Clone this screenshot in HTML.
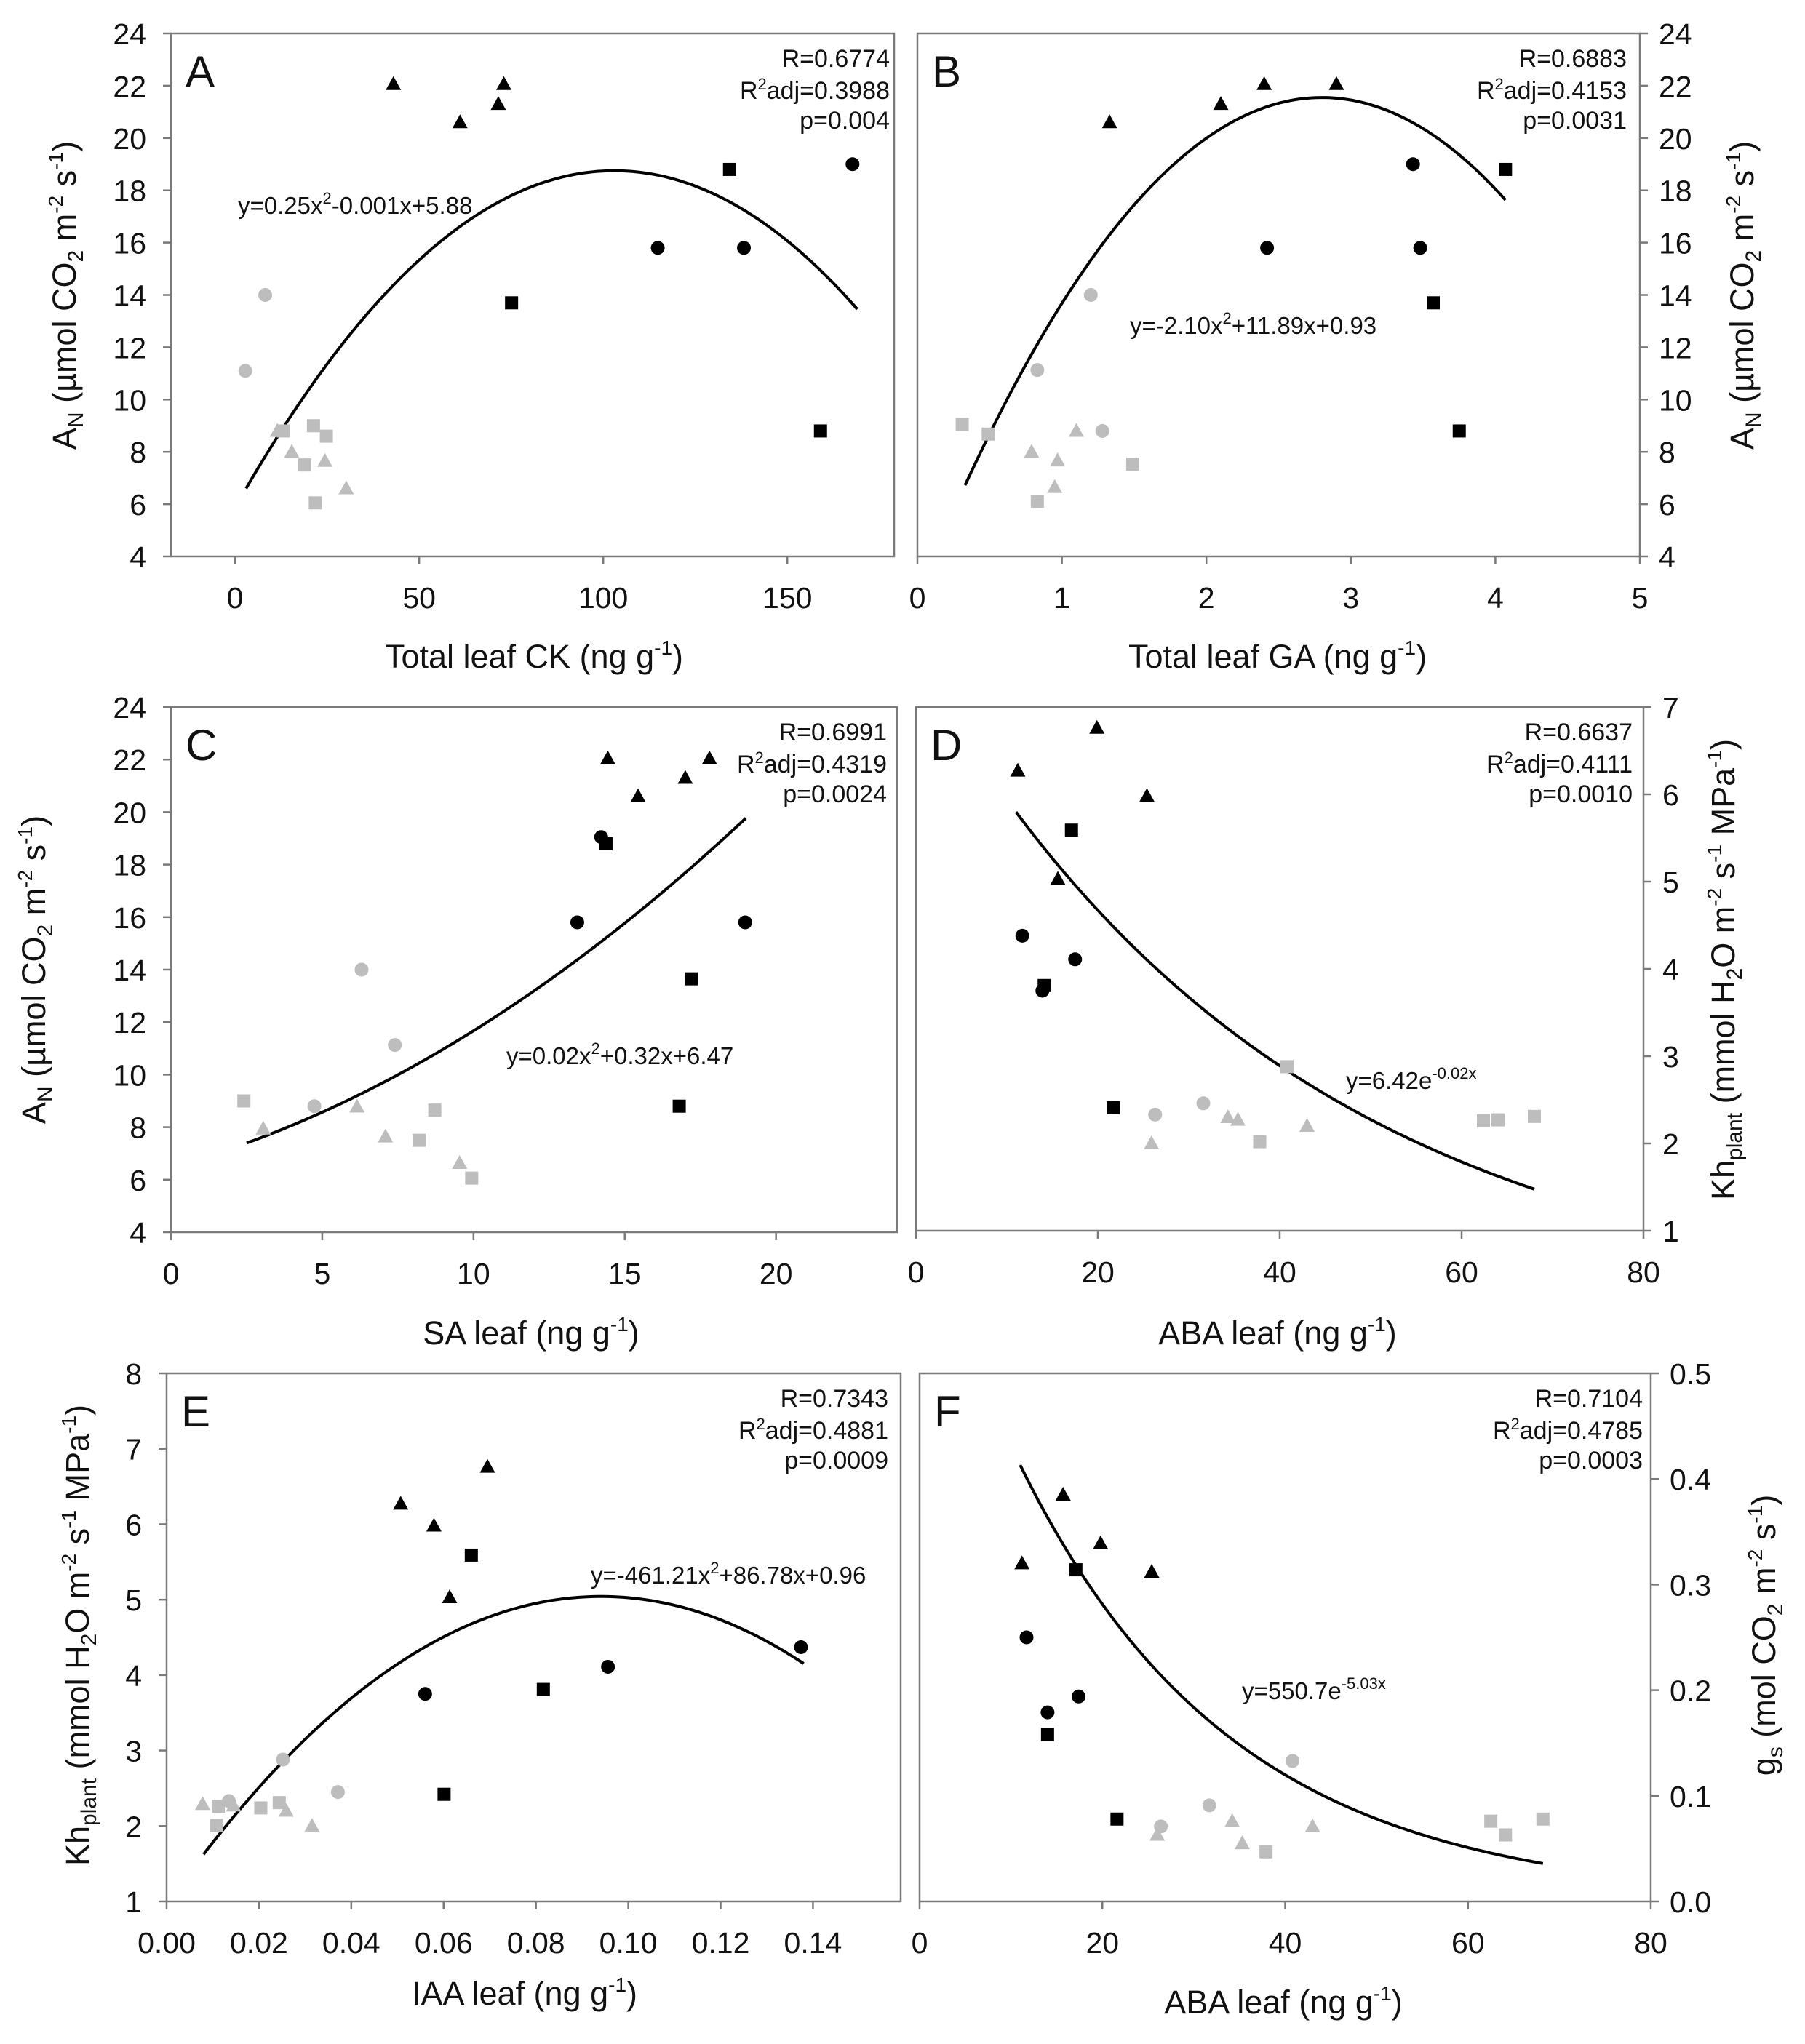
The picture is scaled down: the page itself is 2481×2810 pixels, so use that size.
<!DOCTYPE html>
<html><head><meta charset="utf-8"><style>
html,body{margin:0;padding:0;background:#fff}
svg{display:block}
text{font-family:"Liberation Sans",Arial,sans-serif;fill:#111}
</style></head><body>
<svg id="fig" width="2481" height="2810" viewBox="0 0 2481 2810" xmlns="http://www.w3.org/2000/svg"></svg>
<script>
// ---- Panel A data (Total leaf CK vs AN)
const aBTriX=[43,61.1,73,71.5], aBTriY=[22.06,20.6,22.06,21.3];
const aBSqX=[134.3,75.1,159], aBSqY=[18.8,13.7,8.8];
const aBCirX=[167.7,114.8,138.2], aBCirY=[19.0,15.8,15.8];
const aGTriX=[11.5,15.4,24.4,30.2], aGTriY=[8.8,8.0,7.65,6.6];
const aGSqX=[13.1,21.3,24.8,18.9,21.8], aGSqY=[8.8,9.0,8.6,7.5,6.05];
const aGCirX=[8.2,2.8], aGCirY=[14.0,11.1];
const aFit=[-0.001215,103,18.75], aFitRange=[3,169];
// ---- Panel B data (Total leaf GA vs AN)
const bBTriX=[1.33,2.10,2.40,2.90], bBTriY=[20.6,21.3,22.06,22.06];
const bBSqX=[4.07,3.57,3.75], bBSqY=[18.8,13.7,8.8];
const bBCirX=[3.43,2.42,3.48], bBCirY=[19.0,15.8,15.8];
const bGTriX=[1.10,0.79,0.97,0.95], bGTriY=[8.8,8.0,7.67,6.65];
const bGSqX=[0.31,0.49,1.49,0.83], bGSqY=[9.05,8.68,7.53,6.1];
const bGCirX=[1.20,0.83,1.28], bGCirY=[14.0,11.13,8.8];
const bFit=[-2.43,2.8,21.55], bFitRange=[0.33,4.07];
// ---- Panel C data (SA leaf vs AN)
const cBTriX=[14.44,15.44,17.0,17.8], cBTriY=[22.04,20.6,21.3,22.04];
const cBSqX=[14.38,17.2,16.8], cBSqY=[18.8,13.65,8.8];
const cBCirX=[14.22,13.43,18.98], cBCirY=[19.05,15.8,15.8];
const cGTriX=[3.05,6.15,7.09,9.54], cGTriY=[7.94,8.78,7.64,6.63];
const cGSqX=[2.41,8.72,8.2,9.94], cGSqY=[9.0,8.65,7.5,6.06];
const cGCirX=[6.3,7.4,4.74], cGCirY=[14.0,11.13,8.8];
const cFitCoef=[0.02,0.32,6.47], cFitRange=[2.5,19];
// ---- Panel D data (ABA leaf vs Kh plant)
const dBTriX=[11.2,19.9,25.4,15.6], dBTriY=[6.27,6.76,5.98,5.03];
const dBSqX=[17.1,14.1,21.7], dBSqY=[5.59,3.81,2.41];
const dBCirX=[11.7,17.5,13.9], dBCirY=[4.38,4.11,3.75];
const dGTriX=[25.9,34.3,35.4,43.0], dGTriY=[2.0,2.30,2.27,2.2];
const dGSqX=[40.8,37.8,62.4,64.0,68.0], dGSqY=[2.88,2.02,2.26,2.27,2.31];
const dGCirX=[31.6,26.3], dGCirY=[2.46,2.33];
const dFitExp=[7.55,0.024], dFitRange=[11,68];
// ---- Panel E data (IAA leaf vs Kh plant)
const eBTriX=[0.0507,0.0579,0.0695,0.0613], eBTriY=[6.27,5.98,6.76,5.03];
const eBSqX=[0.066,0.0816,0.0601], eBSqY=[5.59,3.81,2.42];
const eBCirX=[0.056,0.0956,0.1374], eBCirY=[3.75,4.11,4.37];
const eGTriX=[0.0078,0.0145,0.0259,0.0315], eGTriY=[2.29,2.27,2.2,2.0];
const eGSqX=[0.0112,0.0204,0.0244,0.0108], eGSqY=[2.26,2.24,2.31,2.01];
const eGCirX=[0.0252,0.0371,0.0135], eGCirY=[2.88,2.45,2.33];
const eFitCoef=[-461.21,86.78,0.96], eFitRange=[0.008,0.138];
// ---- Panel F data (ABA leaf vs gs)
const fBTriX=[11.2,15.7,19.8,25.4], fBTriY=[0.320,0.385,0.339,0.312];
const fBSqX=[17.1,14.0,21.6], fBSqY=[0.314,0.158,0.078];
const fBCirX=[11.7,14.0,17.4], fBCirY=[0.25,0.179,0.194];
const fGTriX=[26.0,34.2,35.3,43.0], fGTriY=[0.063,0.076,0.055,0.071];
const fGSqX=[37.9,62.5,64.1,68.2], fGSqY=[0.047,0.076,0.063,0.078];
const fGCirX=[40.8,31.7,26.4], fGCirY=[0.133,0.091,0.071];
const fFitExp=[0.661,0.0427], fFitRange=[11,68.2];

const NS="http://www.w3.org/2000/svg";
const svg=document.getElementById('fig');
function mk(tag,attrs,parent){const e=document.createElementNS(NS,tag);for(const k in attrs)e.setAttribute(k,attrs[k]);(parent||svg).appendChild(e);return e;}

function panel(p){
  const g=mk('g',{});
  
  
  const sx=v=>p.L+(v-p.xr[0])/(p.xr[1]-p.xr[0])*(p.R-p.L);
  const sy=v=>p.B-(v-p.yr[0])/(p.yr[1]-p.yr[0])*(p.B-p.T);
  const fr=mk('rect',{x:p.L,y:p.T,width:p.R-p.L,height:p.B-p.T,fill:'none',stroke:'#7a7a7a','stroke-width':2.5},g);
  
  
  p.xt.forEach((v,i)=>{
    const x=sx(v);
    mk('line',{x1:x,y1:p.B,x2:x,y2:p.B+11,stroke:'#7a7a7a','stroke-width':2.5},g);
    const t=mk('text',{x:x,y:p.B+71,'font-size':41,'text-anchor':'middle'},g);
    t.textContent=p.xl[i];
    
    
  });
  const ax=p.right?p.R:p.L;
  p.yt.forEach((v,i)=>{
    const y=sy(v);
    mk('line',{x1:ax,y1:y,x2:p.right?ax+11:ax-11,y2:y,stroke:'#7a7a7a','stroke-width':2.5},g);
    const t=mk('text',{x:p.right?ax+26:ax-34,y:y+15,'font-size':41,'text-anchor':p.right?'start':'end'},g);
    t.textContent=p.yl[i];
    
    
  });
  let d='';
  for(let i=0;i<=120;i++){const xv=p.fitR[0]+(p.fitR[1]-p.fitR[0])*i/120;d+=(i?'L':'M')+sx(xv).toFixed(1)+','+sy(p.fit(xv)).toFixed(1);}
  const c=mk('path',{d:d,fill:'none',stroke:'#000','stroke-width':4},g);
  
  
  p.series.forEach(s=>{
    s.x.forEach((xv,i)=>{
      const X=sx(xv),Y=sy(s.y[i]);let m;
      if(s.shape==='tri')m=mk('polygon',{points:`${X},${Y-11} ${X-10.5},${Y+8} ${X+10.5},${Y+8}`,fill:s.col},g);
      else if(s.shape==='sq')m=mk('rect',{x:X-9,y:Y-9,width:18,height:18,fill:s.col},g);
      else m=mk('circle',{cx:X,cy:Y,r:9.5,fill:s.col},g);
      
      
    });
  });
  const lt=mk('text',{x:p.L+20,y:p.T+73,'font-size':60},g);
  lt.textContent=p.letter;
  
  
  const st=mk('text',{'font-size':34,'text-anchor':'end'},g);
  
  
  st.innerHTML=`<tspan x="${p.statX}" y="${p.T+46}">${p.stats[0]}</tspan><tspan x="${p.statX}" y="${p.T+90}">R<tspan dy="-13" font-size="22">2</tspan><tspan dy="13">adj=${p.stats[1]}</tspan></tspan><tspan x="${p.statX}" y="${p.T+131}">${p.stats[2]}</tspan>`;
  const eq=mk('text',{x:p.eqX,y:p.eqY,'font-size':33},g);
  
  
  eq.innerHTML=p.eq;
  const xt=mk('text',{x:p.xtX,y:p.xtY,'font-size':45,'text-anchor':'middle'},g);
  
  
  xt.innerHTML=p.xTitle+' (ng g<tspan dy="-18" font-size="28">-1</tspan><tspan dy="18">)</tspan>';
  const yt=mk('text',{x:0,y:0,'font-size':45,'text-anchor':'middle',transform:`translate(${p.ytX},${p.ytY}) rotate(-90)`},g);
  
  
  yt.innerHTML=p.yTitle;
}
function ser(bt,bs,bc,gt,gs,gc){return [
 {shape:'tri',col:'#000',name:'marker-black-triangle',x:bt[0],y:bt[1]},
 {shape:'sq',col:'#000',name:'marker-black-square',x:bs[0],y:bs[1]},
 {shape:'cir',col:'#000',name:'marker-black-circle',x:bc[0],y:bc[1]},
 {shape:'tri',col:'#bdbdbd',name:'marker-gray-triangle',x:gt[0],y:gt[1]},
 {shape:'sq',col:'#bdbdbd',name:'marker-gray-square',x:gs[0],y:gs[1]},
 {shape:'cir',col:'#bdbdbd',name:'marker-gray-circle',x:gc[0],y:gc[1]}];}
const sub=(s)=>`<tspan dy="10" font-size="30">${s}</tspan><tspan dy="-10"> </tspan>`;
const subN=(s)=>`<tspan dy="10" font-size="30">${s}</tspan><tspan dy="-10">`;
const sup=(s)=>`<tspan dy="-18" font-size="28">${s}</tspan><tspan dy="18"> </tspan>`;
const supEnd=(s)=>`<tspan dy="-18" font-size="28">${s}</tspan><tspan dy="18">)</tspan>`;
const anTitle=`A${sub('N')}(µmol CO${sub('2')}m${sup('-2')}s${supEnd('-1')}`;
const khTitle=`Kh${sub('plant')}(mmol H${subN('2')}O m</tspan>${sup('-2')}s${sup('-1')}MPa${supEnd('-1')}`;
const gsTitle=`g${sub('s')}(mol CO${sub('2')}m${sup('-2')}s${supEnd('-1')}`;
const rng=(a,b,s)=>{const r=[];for(let v=a;v<=b+1e-9;v+=s)r.push(+v.toFixed(4));return r;};
const y24=rng(4,24,2);
const eqSup=(s)=>`<tspan dy="-14" font-size="22">${s}</tspan><tspan dy="14">`;

panel({letter:'A',L:235,R:1229,T:46,B:765,xr:[-17.4,179],yr:[4,24],xt:[0,50,100,150],xl:['0','50','100','150'],yt:y24,yl:y24.map(String),
 fit:x=>aFit[0]*(x-aFit[1])**2+aFit[2],fitR:aFitRange,series:ser([aBTriX,aBTriY],[aBSqX,aBSqY],[aBCirX,aBCirY],[aGTriX,aGTriY],[aGSqX,aGSqY],[aGCirX,aGCirY]),
 stats:['R=0.6774','0.3988','p=0.004'],statX:1223,eqX:327,eqY:294,eq:`y=0.25x${eqSup('2')}-0.001x+5.88</tspan>`,
 xTitle:'Total leaf CK',xtX:734,xtY:918,ytX:104,ytY:406,yTitle:anTitle});
panel({letter:'B',L:1261,R:2254,T:46,B:765,right:true,xr:[0,5],yr:[4,24],xt:[0,1,2,3,4,5],xl:['0','1','2','3','4','5'],yt:y24,yl:y24.map(String),
 fit:x=>bFit[0]*(x-bFit[1])**2+bFit[2],fitR:bFitRange,series:ser([bBTriX,bBTriY],[bBSqX,bBSqY],[bBCirX,bBCirY],[bGTriX,bGTriY],[bGSqX,bGSqY],[bGCirX,bGCirY]),
 stats:['R=0.6883','0.4153','p=0.0031'],statX:2236,eqX:1553,eqY:459,eq:`y=-2.10x${eqSup('2')}+11.89x+0.93</tspan>`,
 xTitle:'Total leaf GA',xtX:1756,xtY:918,ytX:2410,ytY:406,yTitle:anTitle});
panel({letter:'C',L:235,R:1233,T:972,B:1694,xr:[0,24],yr:[4,24],xt:[0,5,10,15,20],xl:['0','5','10','15','20'],yt:y24,yl:y24.map(String),
 fit:x=>cFitCoef[0]*x*x+cFitCoef[1]*x+cFitCoef[2],fitR:cFitRange,series:ser([cBTriX,cBTriY],[cBSqX,cBSqY],[cBCirX,cBCirY],[cGTriX,cGTriY],[cGSqX,cGSqY],[cGCirX,cGCirY]),
 stats:['R=0.6991','0.4319','p=0.0024'],statX:1219,eqX:696,eqY:1463,eq:`y=0.02x${eqSup('2')}+0.32x+6.47</tspan>`,
 xTitle:'SA leaf',xtX:730,xtY:1848,ytX:62,ytY:1333,yTitle:anTitle});
const d17=rng(1,7,1);
panel({letter:'D',L:1259,R:2259,T:972,B:1692,right:true,xr:[0,80],yr:[1,7],xt:[0,20,40,60,80],xl:['0','20','40','60','80'],yt:d17,yl:d17.map(String),
 fit:x=>dFitExp[0]*Math.exp(-dFitExp[1]*x),fitR:dFitRange,series:ser([dBTriX,dBTriY],[dBSqX,dBSqY],[dBCirX,dBCirY],[dGTriX,dGTriY],[dGSqX,dGSqY],[dGCirX,dGCirY]),
 stats:['R=0.6637','0.4111','p=0.0010'],statX:2244,eqX:1850,eqY:1497,eq:`y=6.42e${eqSup('-0.02x')}</tspan>`,
 xTitle:'ABA leaf',xtX:1756,xtY:1848,ytX:2384,ytY:1333,yTitle:khTitle});
const e18=rng(1,8,1), ex=rng(0,0.14,0.02);
panel({letter:'E',L:229,R:1238,T:1888,B:2614,xr:[0,0.159],yr:[1,8],xt:ex,xl:ex.map(v=>v.toFixed(2)),yt:e18,yl:e18.map(String),
 fit:x=>eFitCoef[0]*x*x+eFitCoef[1]*x+eFitCoef[2],fitR:eFitRange,series:ser([eBTriX,eBTriY],[eBSqX,eBSqY],[eBCirX,eBCirY],[eGTriX,eGTriY],[eGSqX,eGSqY],[eGCirX,eGCirY]),
 stats:['R=0.7343','0.4881','p=0.0009'],statX:1221,eqX:812,eqY:2177,eq:`y=-461.21x${eqSup('2')}+86.78x+0.96</tspan>`,
 xTitle:'IAA leaf',xtX:721,xtY:2756,ytX:122,ytY:2248,yTitle:khTitle});
const f05=rng(0,0.5,0.1);
panel({letter:'F',L:1264,R:2269,T:1888,B:2614,right:true,xr:[0,80],yr:[0,0.5],xt:[0,20,40,60,80],xl:['0','20','40','60','80'],yt:f05,yl:f05.map(v=>v.toFixed(1)),
 fit:x=>fFitExp[0]*Math.exp(-fFitExp[1]*x),fitR:fFitRange,series:ser([fBTriX,fBTriY],[fBSqX,fBSqY],[fBCirX,fBCirY],[fGTriX,fGTriY],[fGSqX,fGSqY],[fGCirX,fGCirY]),
 stats:['R=0.7104','0.4785','p=0.0003'],statX:2258,eqX:1707,eqY:2336,eq:`y=550.7e${eqSup('-5.03x')}</tspan>`,
 xTitle:'ABA leaf',xtX:1764,xtY:2768,ytX:2440,ytY:2248,yTitle:gsTitle});
</script>
</body></html>
